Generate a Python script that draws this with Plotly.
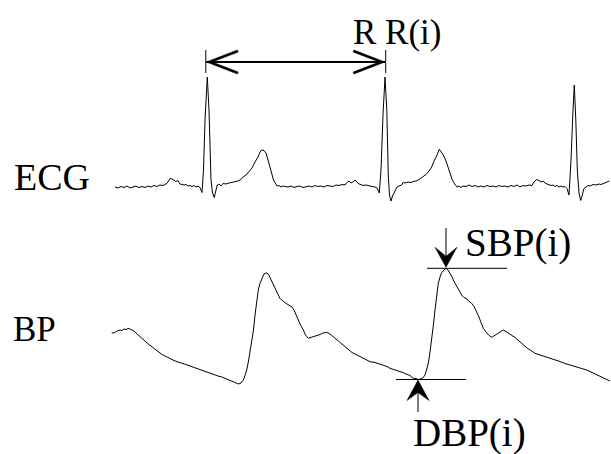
import plotly.graph_objects as go

ecg_x = [115, 118, 121, 124, 127, 130, 133, 136, 139, 142, 145, 148, 151, 154, 157, 160, 163, 166, 168, 170,
         172, 174, 176, 178, 180, 182, 184, 186, 188, 190, 192, 194, 196, 198, 200, 202, 203.5, 205, 207.3, 209,
         211, 212.5, 214.3, 215.5, 217.3, 219, 221, 223, 226, 229, 232, 235, 238, 241, 243, 246, 249, 252, 255, 258,
         260, 261.7, 264, 266, 268, 270, 272, 273.5, 275, 277, 279, 281, 283, 285, 288, 291, 294, 297, 300, 303,
         306, 309, 312, 315, 318, 321, 324, 327, 330, 333, 336, 339, 342, 345, 347, 349, 351, 353, 355, 357,
         359, 361, 363, 366, 369, 372, 375, 377, 379.3, 381, 383, 385, 386.8, 388.3, 389.5, 391, 392.5, 395, 397, 399,
         401.7, 403, 405, 408, 411, 413, 416, 419, 423, 426, 429, 431.7, 434, 436.7, 439.3, 441, 443.3, 446, 448, 450,
         452, 454, 455.5, 457, 459, 461, 463, 466, 469, 472, 475, 478, 481, 484, 487, 490, 493, 496, 499, 502,
         505, 508, 511, 514, 517, 520, 523, 526, 529, 532, 534, 536.7, 539, 541, 543.3, 545, 547, 549, 551, 553,
         555, 557, 559, 561, 563, 565, 567, 569, 571, 573, 574.3, 575.8, 577.3, 579, 580.7, 582.3, 584, 586, 588, 590,
         593, 596, 599, 601, 603.3, 606, 609.3]
ecg_y = [187, 188, 186.5, 187.5, 186, 188, 187, 186, 187.5, 186.5, 187.5, 186, 187, 185.5, 186.5, 185, 185.5, 184, 182, 178.5,
         179, 180, 181.5, 180.5, 184, 184.5, 185, 184.5, 186, 185.5, 186.5, 185.5, 187, 186, 187.5, 192.5, 170, 120, 77, 110,
         180, 193, 197.5, 192, 185, 184, 186, 183.5, 184, 183, 182.5, 181.5, 181, 179.5, 177, 175, 171.5, 168, 162, 157,
         152, 150, 150.5, 153, 160, 168, 175, 180, 182.5, 186, 185.5, 187, 186, 186.5, 187, 186, 187.5, 186.5, 186, 187.5,
         186.5, 186, 187, 185.5, 186.5, 186, 187, 185.5, 186, 186.5, 185, 185.5, 184.5, 185, 182.5, 181, 183, 182, 180, 182.5,
         184, 184.5, 185.5, 185, 186, 186.5, 187, 188, 193, 170, 115, 77, 110, 176, 195, 201, 196, 191.5, 187, 186,
         185, 182.5, 183, 182, 182.5, 181.5, 181, 179.5, 177, 174.5, 171, 167, 161, 156, 149.3, 152, 155, 161, 167, 173.5,
         179, 183, 185, 187, 186, 187.5, 186, 186.5, 185, 186.5, 185.5, 187, 186, 187, 185.5, 186.5, 186, 187, 185.5, 186.5,
         186, 187, 185.5, 186.5, 185, 187, 185.5, 186, 185, 185.5, 182, 179.5, 180.5, 182, 181, 183, 184, 184.5, 185.5, 185,
         186.5, 185.5, 187, 186, 187, 186.5, 188.5, 195, 160, 110, 85, 120, 170, 193, 200.5, 195, 188.5, 187, 185.5, 186,
         184.5, 185, 184, 184.5, 183.5, 182.5, 181]

# Blood pressure trace
bp_x = [111.7, 114, 116, 118, 120, 122, 124, 126, 128, 130, 132, 134, 136, 138, 140, 143, 146, 149, 152, 155,
        156.7, 159, 162, 165, 168, 170, 174, 178, 182, 186, 190, 194, 198, 202, 206, 210, 214, 218, 222, 226.7,
        230, 234, 238.3, 241, 243.3, 245, 246.7, 248.5, 250, 251.7, 253.5, 255, 256.7, 258.3, 260, 262, 264, 265, 267, 268.3,
        270, 272, 273.3, 275, 276.5, 278.3, 280, 281.5, 283.3, 285, 287, 289, 291.7, 294, 296, 298.3, 300.5, 303.3, 305.5, 308.3,
        311, 314, 316.7, 320, 323, 326.7, 330, 333, 336.7, 340, 344, 348, 352, 356, 360, 363.3, 367, 370, 375, 380,
        383.3, 387, 390, 394, 398, 403.3, 406, 410, 413.3, 416, 418, 420, 422, 423.5, 425, 426.5, 428.3, 430, 431.7, 433.5,
        435, 436.7, 438.3, 440, 441.7, 444, 446, 448, 450, 452, 454, 456.7, 459, 461.7, 464, 467, 469, 471.7, 474, 476.7,
        479, 481, 483.3, 486, 488.5, 491.7, 494, 496, 498.3, 501, 503.3, 506, 509, 511.7, 515, 519, 523.3, 527, 531, 535,
        540, 545, 550, 555, 560, 565, 570, 575, 580, 586.7, 592, 597, 603.3, 607, 610]
bp_y = [332.7, 333, 331.5, 331, 330, 330.5, 329, 329.5, 328.5, 329, 330, 331, 333, 335, 336.7, 339, 342, 344.5, 347, 349.5,
        350.7, 352.5, 354.5, 356, 357.5, 359.3, 360.5, 362, 363, 364.5, 366, 367.5, 368.5, 370, 371.5, 373.3, 374.5, 376, 377, 379.3,
        380.5, 382, 384, 383, 380, 375.5, 370, 361, 352, 343.3, 330, 315, 300, 290, 283.3, 277.5, 274, 273.3, 273, 274,
        277.5, 282, 285, 289, 292.5, 296, 298.5, 300, 301, 302.5, 304, 305.5, 306.7, 310, 315, 320, 325, 330, 335, 338.3,
        337.5, 336.5, 336, 334.5, 333, 332.3, 334, 336.5, 340, 343, 346, 349.5, 352.5, 354.5, 356.5, 358.3, 359.5, 361.7, 362.5, 364,
        365, 366.5, 368.3, 369.5, 370.5, 372.7, 374, 375.5, 378.3, 378.5, 379.5, 379.3, 378.5, 377, 375, 370, 363.3, 352, 340, 324,
        310, 296, 283.3, 277, 272.7, 270, 268.3, 270, 273.3, 277, 281.5, 286.7, 291, 295, 297.5, 299, 301.5, 303.3, 306.5, 311.7,
        317, 322.5, 328.3, 332, 335, 337.3, 336, 334.5, 333.3, 331.5, 330, 331.5, 333.5, 335, 337.5, 341, 345, 348, 350.5, 353.3,
        355, 356.5, 358.3, 360, 361.5, 363.5, 365, 366.5, 368, 370, 372.5, 375, 378.3, 379.5, 381]

labels = {"ecg": "ECG", "bp": "BP", "rr": "R R(i)", "sbp": "SBP(i)", "dbp": "DBP(i)"}

# ---- landmarks derived from the traces ----
r_peaks = [ecg_x[i] for i in range(1, len(ecg_y) - 1)
           if ecg_y[i] < 120 and ecg_y[i] <= ecg_y[i - 1] and ecg_y[i] <= ecg_y[i + 1]]
r1, r2 = r_peaks[0], r_peaks[1]

late = [i for i in range(len(bp_x)) if bp_x[i] > 400]
i_sbp = min(late, key=lambda i: bp_y[i])
sbp_x, sbp_y = bp_x[i_sbp], bp_y[i_sbp]
pre = [i for i in range(len(bp_x)) if 400 < bp_x[i] < sbp_x]
i_dbp = max(pre, key=lambda i: bp_y[i])
dbp_x, dbp_y = bp_x[i_dbp], bp_y[i_dbp]

fig = go.Figure()
fig.add_trace(go.Scatter(x=ecg_x, y=ecg_y, mode="lines", line=dict(color="black", width=1), hoverinfo="skip"))
fig.add_trace(go.Scatter(x=bp_x, y=bp_y, mode="lines", line=dict(color="black", width=1), hoverinfo="skip"))

shapes = []
K = dict(color="black", width=1)
ay = 62
# RR arrow
shapes.append(dict(type="line", x0=r1 - 1, x1=r2, y0=ay, y1=ay, line=dict(color="black", width=2)))
shapes.append(dict(type="line", x0=r1 - 1.5, x1=r1 - 1.5, y0=50, y1=73, line=K))
shapes.append(dict(type="line", x0=r2 + 0.7, x1=r2 + 0.7, y0=50, y1=73, line=K))
tl = r1 - 1
tr = r2
shapes.append(dict(type="path", path=f"M{tl},{ay} L{tl+31},{ay-12} L{tl+32},{ay-10} L{tl+6},{ay} L{tl+32},{ay+10} L{tl+31},{ay+12} Z",
                   fillcolor="black", line=dict(color="black", width=0.5)))
shapes.append(dict(type="path", path=f"M{tr},{ay} L{tr-31},{ay-12} L{tr-32},{ay-10} L{tr-6},{ay} L{tr-32},{ay+10} L{tr-31},{ay+12} Z",
                   fillcolor="black", line=dict(color="black", width=0.5)))
# SBP marker
shapes.append(dict(type="line", x0=sbp_x - 19, x1=sbp_x + 61, y0=sbp_y, y1=sbp_y, line=K))
shapes.append(dict(type="line", x0=sbp_x, x1=sbp_x, y0=228, y1=sbp_y - 8, line=K))
shapes.append(dict(type="path", path=f"M{sbp_x},{sbp_y-1} L{sbp_x-11},{sbp_y-21} L{sbp_x},{sbp_y-12} L{sbp_x+11},{sbp_y-21} Z",
                   fillcolor="black", line=dict(color="black", width=0.5)))
# DBP marker
shapes.append(dict(type="line", x0=dbp_x - 22, x1=dbp_x + 48, y0=dbp_y, y1=dbp_y, line=K))
shapes.append(dict(type="line", x0=dbp_x, x1=dbp_x, y0=dbp_y + 8, y1=412, line=K))
shapes.append(dict(type="path", path=f"M{dbp_x},{dbp_y+0.5} L{dbp_x-11},{dbp_y+21} L{dbp_x},{dbp_y+13} L{dbp_x+11},{dbp_y+21} Z",
                   fillcolor="black", line=dict(color="black", width=0.5)))

F = "Liberation Serif, Times New Roman, serif"
ann = [
    dict(x=396.5, y=32.5, text=labels["rr"], font=dict(family=F, size=35, color="black")),
    dict(x=517.5, y=243, text=labels["sbp"], font=dict(family=F, size=39, color="black")),
    dict(x=469, y=432.5, text=labels["dbp"], font=dict(family=F, size=39, color="black")),
    dict(x=51.5, y=176.5, text=labels["ecg"], font=dict(family=F, size=38, color="black")),
    dict(x=34, y=329, text=labels["bp"], font=dict(family=F, size=35, color="black")),
]
for a in ann:
    a.update(xref="x", yref="y", showarrow=False, xanchor="center", yanchor="middle")

fig.update_layout(
    width=611, height=454, margin=dict(l=0, r=0, t=0, b=0),
    paper_bgcolor="white", plot_bgcolor="white", showlegend=False,
    xaxis=dict(range=[0, 611], visible=False, fixedrange=True),
    yaxis=dict(range=[454, 0], visible=False, fixedrange=True),
    shapes=shapes, annotations=ann,
)
fig.write_html("out.html", config={"displayModeBar": False})
